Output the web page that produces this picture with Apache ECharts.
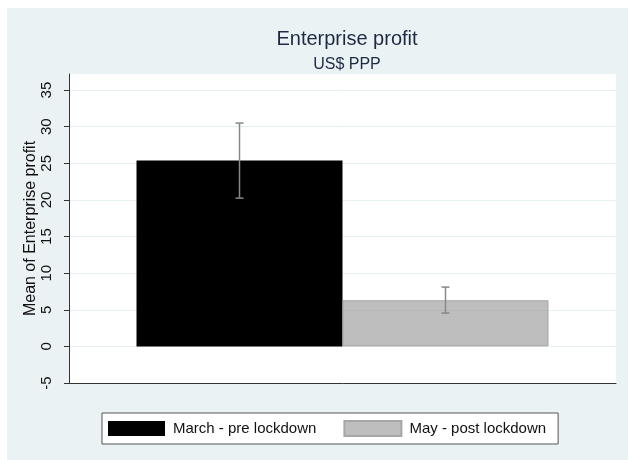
<!DOCTYPE html>
<html>
<head>
<meta charset="utf-8">
<script src="https://cdn.jsdelivr.net/npm/echarts@6/dist/echarts.min.js"></script>
<style>
html, body { margin: 0; padding: 0; background: #fff; }
#main { width: 628px; height: 460px; }
</style>
</head>
<body>
<div id="main"></div>
<script>
// data
var groupNames = ['March - pre lockdown', 'May - post lockdown'];
var meanVals = [25.4, 6.3];
var ciLow = [20.25, 4.55];
var ciHigh = [30.5, 8.1];
var yTicks = [-5, 0, 5, 10, 15, 20, 25, 30, 35];
var category = ['Enterprise profit'];

var barW = 206; // px, both bars touch
var font = '"Liberation Sans", Arial, sans-serif';

var chart = echarts.init(document.getElementById('main'));

var errData = [];
for (var i = 0; i < meanVals.length; i++) {
    errData.push([0, ciLow[i], ciHigh[i], i]);
}

chart.setOption({
    animation: false,
    backgroundColor: '#fff',
    graphic: [{
        type: 'rect',
        z: -10,
        shape: { x: 7, y: 8, width: 621, height: 452 },
        style: { fill: '#EAF2F3' },
        silent: true
    }],
    title: [{
        text: 'Enterprise profit',
        left: 342, top: 24, textAlign: 'center',
        textStyle: { fontFamily: font, fontSize: 20, fontWeight: 'normal', color: '#1E2A44' }
    }, {
        text: 'US$ PPP',
        left: 342, top: 52, textAlign: 'center',
        textStyle: { fontFamily: font, fontSize: 16, fontWeight: 'normal', color: '#1E2A44' }
    }],
    legend: {
        left: 102, top: 413,
        itemWidth: 57, itemHeight: 15, itemGap: 27,
        padding: [7, 12, 7, 6],
        backgroundColor: '#fff',
        borderColor: '#555', borderWidth: 1,
        icon: 'rect',
        textStyle: { fontFamily: font, fontSize: 15, color: '#111', lineHeight: 15, padding: [0, 0, 0, 3] },
        data: groupNames
    },
    grid: {
        left: 69, right: 12, top: 74, bottom: 77,
        show: true, backgroundColor: '#fff', borderWidth: 0
    },
    xAxis: {
        type: 'category',
        data: category,
        axisLine: { onZero: false, lineStyle: { color: '#333', width: 1 } },
        axisTick: { show: false },
        axisLabel: { show: false }
    },
    yAxis: {
        type: 'value',
        min: -5, max: 37.2, interval: 5,
        name: 'Mean of Enterprise profit',
        nameLocation: 'middle', nameGap: 30, nameRotate: 90,
        nameMoveOverlap: false,
        nameTextStyle: { fontFamily: font, fontSize: 16, color: '#111' },
        axisLine: { show: true, lineStyle: { color: '#333', width: 1 } },
        axisTick: { show: true, length: 5, customValues: yTicks, lineStyle: { color: '#333' } },
        axisLabel: {
            rotate: 90, margin: 15, customValues: yTicks,
            fontFamily: font, fontSize: 15, color: '#111'
        },
        splitLine: { show: true, lineStyle: { color: '#E6F0F2', width: 1 } }
    },
    series: [{
        name: groupNames[0],
        type: 'bar',
        data: [meanVals[0]],
        barWidth: barW,
        barGap: '0%',
        itemStyle: { color: '#000' }
    }, {
        name: groupNames[1],
        type: 'bar',
        data: [meanVals[1]],
        barWidth: barW,
        itemStyle: { color: 'rgba(150,150,150,0.62)', borderColor: '#A6A6A6', borderWidth: 1 }
    }, {
        type: 'custom',
        data: errData,
        z: 5,
        renderItem: function (params, api) {
            var lo = api.coord([0, api.value(1)]);
            var hi = api.coord([0, api.value(2)]);
            var x = lo[0] + (api.value(3) - 0.5) * barW;
            var cap = 4;
            var st = { stroke: '#888', lineWidth: 1.5 };
            return {
                type: 'group',
                children: [
                    { type: 'line', shape: { x1: x, y1: lo[1], x2: x, y2: hi[1] }, style: st },
                    { type: 'line', shape: { x1: x - cap, y1: lo[1], x2: x + cap, y2: lo[1] }, style: st },
                    { type: 'line', shape: { x1: x - cap, y1: hi[1], x2: x + cap, y2: hi[1] }, style: st }
                ]
            };
        }
    }]
});
</script>
</body>
</html>
